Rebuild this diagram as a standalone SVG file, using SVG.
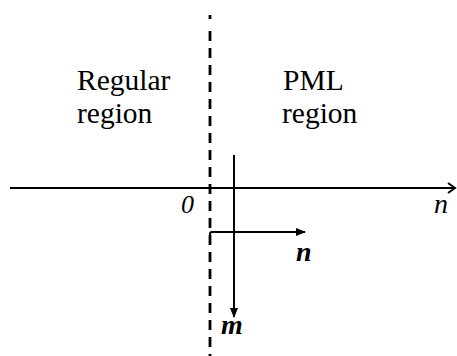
<svg xmlns="http://www.w3.org/2000/svg" width="457" height="356" viewBox="0 0 457 356">
<style>
text{font-family:"Liberation Serif","Times New Roman",serif;fill:#000}
.lbl{font-size:29.5px}
.ln{stroke:#000;stroke-width:2;fill:none}
</style>
<defs>
<marker id="tri" markerWidth="10" markerHeight="8" refX="9" refY="4" orient="auto" markerUnits="userSpaceOnUse">
<path d="M0,0 L10,4 L0,8 Z" fill="#000"/>
</marker>
<marker id="open" markerWidth="10" markerHeight="12" refX="8" refY="6" orient="auto" markerUnits="userSpaceOnUse">
<path d="M1,1 L8,6 L1,11" fill="none" stroke="#000" stroke-width="2"/>
</marker>
</defs>
<rect width="457" height="356" fill="#fff"/>
<g id="connectors">
<line id="boundary" x1="210" y1="15" x2="210" y2="356" stroke="#000" stroke-width="2.8" stroke-dasharray="4 12 10 7 10 7 10 7 10 7 10 7 10 7 10 7 10 7 10 7 10 7 10 7 10 7 10 7 10 7 10 7 10 7 10 7 10 7 10 7 10 7"/>
<line id="axis" class="ln" x1="10" y1="188" x2="455" y2="188" marker-end="url(#open)"/>
<line id="m-arrow" class="ln" x1="234" y1="155" x2="234" y2="317" marker-end="url(#tri)"/>
<path id="n-arrow" class="ln" d="M210,238 L210,234 Q210,232 212,232 L305,232" marker-end="url(#tri)"/>
</g>
<g id="regular">
<text class="lbl" x="77" y="89.5">Regular</text>
<text class="lbl" x="77" y="122.5">region</text>
</g>
<g id="pml">
<text class="lbl" x="283" y="89.5">PML</text>
<text class="lbl" x="282" y="122.5">region</text>
</g>
<g id="labels">
<text x="181" y="213" font-size="26" font-style="italic">0</text>
<text x="434" y="213" font-size="28" font-style="italic">n</text>
<text x="296" y="261" font-size="28" font-style="italic" font-weight="bold">n</text>
<text x="221" y="334" font-size="28" font-style="italic" font-weight="bold">m</text>
</g>
</svg>
